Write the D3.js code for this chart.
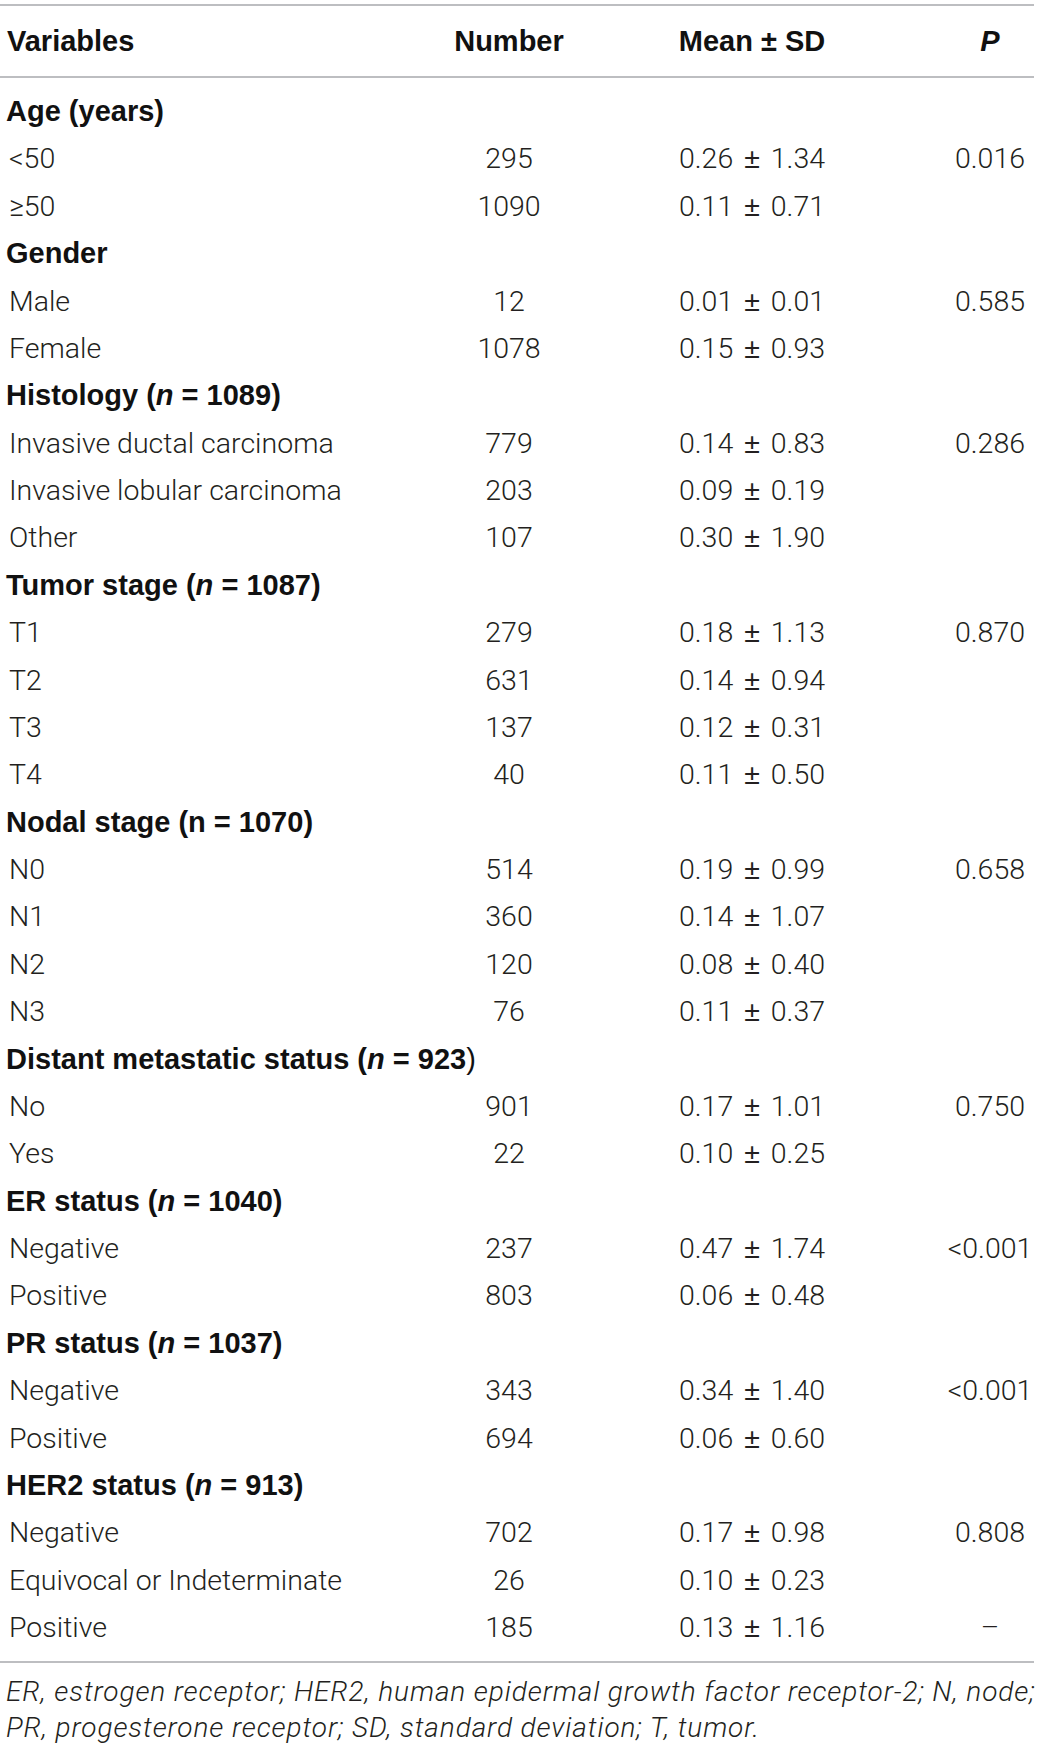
<!DOCTYPE html>
<html>
<head>
<meta charset="utf-8">
<script src="https://cdn.jsdelivr.net/npm/d3@7"></script>
<style>
  body { margin: 0; background: #fff; }
  svg text { font-family: Roboto, "Liberation Sans", sans-serif; fill: #231f20; }
  .cell { font-size: 28.5px; font-weight: 300; }
  .head { font-family: "Liberation Sans", Arial, sans-serif; font-size: 29px; font-weight: 700; fill: #111; }
  .note { font-size: 28px; font-weight: 300; font-style: italic; letter-spacing: 0.9px; }
  .pm { font-family: "Liberation Sans", Arial, sans-serif; font-weight: 400; }
</style>
</head>
<body>
<svg id="table"></svg>
<script>
const headers = ['Variables', 'Number', 'Mean ± SD', 'P'];

const groups = ['Age (years)', 'Gender', 'Histology', 'Tumor stage', 'Nodal stage',
  'Distant metastatic status', 'ER status', 'PR status', 'HER2 status'];
const groupN = [null, null, '1089', '1087', '1070', '923', '1040', '1037', '913'];

const levels = [
  ['<50', '≥50'],
  ['Male', 'Female'],
  ['Invasive ductal carcinoma', 'Invasive lobular carcinoma', 'Other'],
  ['T1', 'T2', 'T3', 'T4'],
  ['N0', 'N1', 'N2', 'N3'],
  ['No', 'Yes'],
  ['Negative', 'Positive'],
  ['Negative', 'Positive'],
  ['Negative', 'Equivocal or Indeterminate', 'Positive']
];
const numbers = [
  [295, 1090], [12, 1078], [779, 203, 107], [279, 631, 137, 40],
  [514, 360, 120, 76], [901, 22], [237, 803], [343, 694], [702, 26, 185]
];
const means = [
  [0.26, 0.11], [0.01, 0.15], [0.14, 0.09, 0.30], [0.18, 0.14, 0.12, 0.11],
  [0.19, 0.14, 0.08, 0.11], [0.17, 0.10], [0.47, 0.06], [0.34, 0.06], [0.17, 0.10, 0.13]
];
const sds = [
  [1.34, 0.71], [0.01, 0.93], [0.83, 0.19, 1.90], [1.13, 0.94, 0.31, 0.50],
  [0.99, 1.07, 0.40, 0.37], [1.01, 0.25], [1.74, 0.48], [1.40, 0.60], [0.98, 0.23, 1.16]
];
const pValues = [
  ['0.016', ''], ['0.585', ''], ['0.286', '', ''], ['0.870', '', '', ''],
  ['0.658', '', '', ''], ['0.750', ''], ['<0.001', ''], ['<0.001', ''], ['0.808', '', '–']
];

const footnote = [
  'ER, estrogen receptor; HER2, human epidermal growth factor receptor-2; N, node;',
  'PR, progesterone receptor; SD, standard deviation; T, tumor.'
];

// flatten into table rows
const rows = [];
groups.forEach((g, gi) => {
  rows.push({ type: 'group', gi: gi, label: g });
  levels[gi].forEach((lv, li) => {
    rows.push({
      type: 'level', label: lv,
      number: numbers[gi][li], mean: means[gi][li], sd: sds[gi][li], p: pValues[gi][li]
    });
  });
});

const W = 1044, H = 1748;
const svg = d3.select('#table').attr('width', W).attr('height', H);

const y = d3.scalePoint().domain(d3.range(rows.length)).range([121, 1637]);
const col = d3.scaleOrdinal().domain(['number', 'mean', 'p']).range([509, 752, 990]);
const f2 = d3.format('.2f');

// rules
[5, 77, 1662].forEach(ly => {
  svg.append('line')
    .attr('x1', 0).attr('x2', 1034)
    .attr('y1', ly).attr('y2', ly)
    .attr('stroke', '#a7a9ac').attr('stroke-width', 1.5);
});

// header row
svg.append('text').attr('class', 'head').attr('x', 7).attr('y', 51).text(headers[0]);
svg.append('text').attr('class', 'head').attr('x', col('number')).attr('y', 51)
  .attr('text-anchor', 'middle').text(headers[1]);
svg.append('text').attr('class', 'head').attr('x', col('mean')).attr('y', 51)
  .attr('text-anchor', 'middle').text(headers[2]);
svg.append('text').attr('class', 'head').attr('x', col('p')).attr('y', 51)
  .attr('text-anchor', 'middle').style('font-style', 'italic').text(headers[3]);

const body = svg.append('g');

rows.forEach((r, i) => {
  if (r.type === 'group') {
    const t = body.append('text').attr('class', 'head').attr('x', 6).attr('y', y(i));
    t.append('tspan').text(r.label);
    const n = groupN[r.gi];
    if (n) {
      const italicN = r.label !== 'Nodal stage';
      t.append('tspan').text(' (');
      t.append('tspan').style('font-style', italicN ? 'italic' : 'normal').text('n');
      t.append('tspan').text(' = ' + n);
      // the closing paren in the source is set in regular weight for one row
      t.append('tspan')
        .style('font-weight', r.label === 'Distant metastatic status' ? 400 : 700)
        .text(')');
    }
  } else {
    body.append('text').attr('class', 'cell').attr('x', 9).attr('y', y(i)).text(r.label);
    body.append('text').attr('class', 'cell').attr('x', col('number')).attr('y', y(i))
      .attr('text-anchor', 'middle').text(r.number);
    const m = body.append('text').attr('class', 'cell').attr('x', col('mean')).attr('y', y(i))
      .attr('text-anchor', 'middle').style('word-spacing', '4px');
    m.append('tspan').text(f2(r.mean) + ' ');
    m.append('tspan').attr('class', 'pm').text('±');
    m.append('tspan').text(' ' + f2(r.sd));
    if (r.p) {
      body.append('text').attr('class', 'cell').attr('x', col('p')).attr('y', y(i))
        .attr('text-anchor', 'middle').text(r.p);
    }
  }
});

footnote.forEach((line, i) => {
  svg.append('text').attr('class', 'note').attr('x', 6).attr('y', 1701 + i * 36).text(line);
});
</script>
</body>
</html>
